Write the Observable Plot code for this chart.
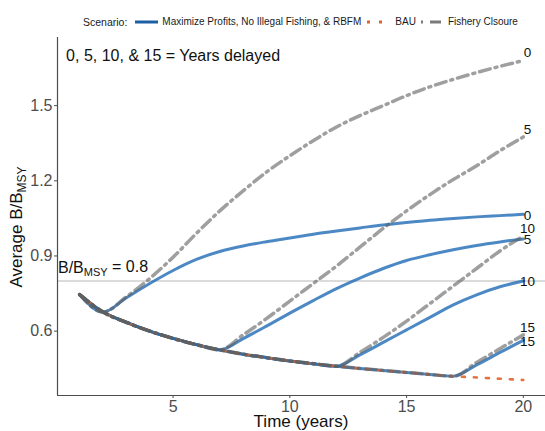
<!DOCTYPE html>
<html>
<head>
<meta charset="utf-8">
<script src="https://cdn.jsdelivr.net/npm/d3@7"></script>
<script src="https://cdn.jsdelivr.net/npm/@observablehq/plot@0.6"></script>
<style>
  html, body { margin: 0; padding: 0; background: #fff; }
  body { width: 545px; height: 431px; overflow: hidden; font-family: "Liberation Sans", Arial, sans-serif; }
  #legend { height: 30px; box-sizing: border-box; padding-top: 13px; padding-left: 83px; display: flex; align-items: center; font-size: 10px; color: #1a1a1a; white-space: nowrap; }
  #legend .lab { font-size: 10.5px; margin-right: 8px; }
  #legend .key { display: inline-block; margin-right: 4px; }
  #legend .txt { margin-right: 4px; }
  #legend .item { display: flex; align-items: center; height: 12px; }
</style>
</head>
<body>
<div id="legend"></div>
<div id="chart"></div>
<script>
// ---------------- data ----------------
const years = d3.range(1, 21);
const delays = [0, 5, 10, 15];
// BAU trajectory (years 1..20)
const bau = [0.746, 0.676, 0.635, 0.600, 0.571, 0.546, 0.525, 0.508, 0.494, 0.481,
             0.470, 0.460, 0.451, 0.443, 0.435, 0.427, 0.420, 0.415, 0.410, 0.405];
// Maximize Profits, No Illegal Fishing, & RBFM (values from the start year = 2 + delay)
const maxProfit0  = [0.676, 0.733, 0.790, 0.842, 0.886, 0.918, 0.940, 0.957, 0.972, 0.987,
                     1.000, 1.012, 1.024, 1.034, 1.043, 1.050, 1.056, 1.061, 1.066];
const maxProfit5  = [0.525, 0.570, 0.620, 0.672, 0.722, 0.770, 0.812, 0.850, 0.882, 0.905,
                     0.925, 0.942, 0.956, 0.968];
const maxProfit10 = [0.460, 0.505, 0.555, 0.605, 0.655, 0.705, 0.745, 0.777, 0.800];
const maxProfit15 = [0.420, 0.465, 0.515, 0.563];
// Fishery Closure
const closure0  = [0.676, 0.737, 0.810, 0.895, 0.990, 1.080, 1.160, 1.235, 1.300, 1.360,
                   1.415, 1.460, 1.500, 1.540, 1.575, 1.605, 1.632, 1.657, 1.680];
const closure5  = [0.525, 0.585, 0.650, 0.720, 0.790, 0.860, 0.935, 1.010, 1.080, 1.145,
                   1.205, 1.260, 1.320, 1.375];
const closure10 = [0.460, 0.515, 0.575, 0.640, 0.710, 0.780, 0.850, 0.920, 0.980];
const closure15 = [0.420, 0.475, 0.530, 0.585];

const refLevel = 0.8;
const xTicks = [5, 10, 15, 20];
const yTicks = [0.6, 0.9, 1.2, 1.5];
const xDomain = [0.05, 20.95];
const yDomain = [0.343, 1.772];
const noteText = "0, 5, 10, & 15 = Years delayed";
const notePos = {x: 5, y: 1.70};
const refText = "B/B_MSY = 0.8";
const labelYear = 20.18;

// ---------------- build tables ----------------
function fullSeries(delay, vals) {
  const start = 2 + delay; // year at which intervention starts
  const pre = bau.slice(0, start - 1).map((v, i) => ({year: years[i], value: v, delay}));
  const post = vals.map((v, i) => ({year: start + i, value: v, delay}));
  return pre.concat(post);
}
const mpSets = [maxProfit0, maxProfit5, maxProfit10, maxProfit15];
const fcSets = [closure0, closure5, closure10, closure15];
const mpRows = delays.flatMap((d, i) => fullSeries(d, mpSets[i]));
const fcRows = delays.flatMap((d, i) => fullSeries(d, fcSets[i]));
const bauRows = bau.map((v, i) => ({year: years[i], value: v}));
const mpEnds = delays.map((d, i) => ({delay: d, value: mpSets[i][mpSets[i].length - 1]}));
const fcEnds = delays.map((d, i) => ({delay: d, value: fcSets[i][fcSets[i].length - 1]}));

// ---------------- legend ----------------
const legend = document.getElementById("legend");
legend.innerHTML = `
  <span class="lab">Scenario:</span>
  <span class="item"><svg class="key" width="23" height="10"><line x1="0" x2="23" y1="5" y2="5" stroke="#1d5fa5" stroke-width="3"/></svg><span class="txt">Maximize Profits, No Illegal Fishing, &amp; RBFM</span></span>
  <span class="item"><svg class="key" width="26" height="10"><line x1="2" x2="26" y1="5" y2="5" stroke="#e0642c" stroke-width="3" stroke-dasharray="3,9"/></svg><span class="txt">BAU</span></span>
  <span class="item"><svg class="key" width="24" height="10"><line x1="1" x2="24" y1="5" y2="5" stroke="#7a7a7a" stroke-width="3" stroke-dasharray="2,7,11,4"/></svg><span class="txt">Fishery Clsoure</span></span>
`;

// ---------------- plot ----------------
const plot = Plot.plot({
  width: 545,
  height: 401,
  marginTop: 7,
  marginBottom: 36,
  marginLeft: 57,
  marginRight: 0,
  style: {fontFamily: "Liberation Sans, Arial, sans-serif", background: "#fff", overflow: "visible"},
  x: {domain: xDomain},
  y: {domain: yDomain},
  marks: [
    Plot.ruleY([refLevel], {stroke: "#b8b8b8", strokeWidth: 1.2}),
    Plot.line(mpRows, {x: "year", y: "value", z: "delay", stroke: "#1f6cb5", strokeOpacity: 0.8, strokeWidth: 3, curve: "monotone-x"}),
    Plot.line(bauRows, {x: "year", y: "value", stroke: "#e0642c", strokeOpacity: 0.9, strokeWidth: 2.6, strokeDasharray: "3,9", curve: "monotone-x"}),
    Plot.line(fcRows, {x: "year", y: "value", z: "delay", stroke: "#5f5f5f", strokeOpacity: 0.6, strokeWidth: 3.5, strokeDasharray: "11,5,2,5", curve: "monotone-x"}),
    Plot.ruleX([xDomain[0]], {stroke: "#4d4d4d", strokeWidth: 1.2}),
    Plot.ruleY([yDomain[0]], {stroke: "#4d4d4d", strokeWidth: 1.2}),
    Plot.axisX({ticks: xTicks, tickSize: 3, tickPadding: 2, fontSize: 16, fill: "#4d4d4d", stroke: "#4d4d4d", label: null}),
    Plot.axisY({ticks: yTicks, tickSize: 3, tickPadding: 2, fontSize: 16, fill: "#4d4d4d", stroke: "#4d4d4d", label: null, tickFormat: d3.format(".1f")}),
    Plot.text(mpEnds, {x: () => labelYear, y: "value", text: d => String(d.delay), fontSize: 13.5, fill: "#111", dy: 1}),
    Plot.text(fcEnds, {x: () => labelYear, y: "value", text: d => String(d.delay), fontSize: 13.5, fill: "#111", dy: -7.5}),
    Plot.text([noteText], {x: () => notePos.x, y: () => notePos.y, text: d => d, fontSize: 16, fill: "#111"}),
    Plot.text([refText], {x: () => xDomain[0] + 0.02, y: () => refLevel, text: d => d, fontSize: 16, fill: "#111", textAnchor: "start", dy: -13})
  ]
});
document.getElementById("chart").appendChild(plot);

// ---------------- subscripts & axis titles ----------------
const svg = d3.select(plot);
svg.selectAll("text").filter(function() { return this.textContent === refText; }).each(function() {
  const t = d3.select(this);
  t.text(null);
  t.append("tspan").text("B/B");
  t.append("tspan").attr("font-size", 11).attr("dy", "0.3em").text("MSY");
  t.append("tspan").attr("dy", "-0.3em").text(" = 0.8");
});
const ys = plot.scale("y"), xs = plot.scale("x");
const yMid = (ys.range[0] + ys.range[1]) / 2 + 11;
const xMid = (xs.range[0] + xs.range[1]) / 2;
const yt = svg.append("text")
  .attr("transform", `translate(22,${yMid}) rotate(-90)`)
  .attr("text-anchor", "middle")
  .attr("font-size", 17)
  .attr("fill", "#111");
yt.append("tspan").text("Average B/B");
yt.append("tspan").attr("font-size", 12).attr("dy", "0.3em").text("MSY");
svg.append("text")
  .attr("x", xMid)
  .attr("y", ys.range[0] + 32)
  .attr("text-anchor", "middle")
  .attr("font-size", 17)
  .attr("fill", "#111")
  .text("Time (years)");
</script>
</body>
</html>
